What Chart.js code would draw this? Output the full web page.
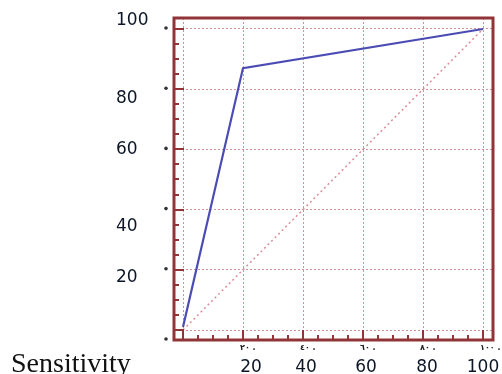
<!DOCTYPE html>
<html>
<head>
<meta charset="utf-8">
<script src="https://cdn.jsdelivr.net/npm/chart.js@4"></script>
<style>
  html, body { margin: 0; padding: 0; background: #fff; }
  canvas { display: block; }
</style>
</head>
<body>
<canvas id="roc" width="502" height="374"></canvas>
<script>
// values
const rocX = [0, 20, 100];
const rocY = [1, 87, 100];
const diagX = [0, 100];
const diagY = [0, 100];
const gridTicks = [0, 20, 40, 60, 80, 100];
const yLabels = ['100', '80', '60', '40', '20'];
const xLabels = ['20', '40', '60', '80', '100'];
const xLabelsAr = ['٢٠', '٤٠', '٦٠', '٨٠', '١٠٠'];
const axisTitle = 'Sensitivity';

const frameColor = '#923437';
const gridColor = '#d98e99';

function toPoints(xs, ys) {
    return xs.map((x, i) => ({ x: x, y: ys[i] }));
}

// frame, tick marks and all the odd text placement
const framePlugin = {
    id: 'frame',
    afterDraw(chart) {
        const ctx = chart.ctx;
        const area = chart.chartArea;
        const xs = chart.scales.x;
        const ys = chart.scales.y;
        ctx.save();

        // minor + major ticks, inside
        ctx.strokeStyle = frameColor;
        ctx.lineWidth = 2;
        for (let v = 0; v <= 100; v += 5) {
            const major = v % 20 === 0;
            const len = major ? 10 : 5;
            const py = Math.round(ys.getPixelForValue(v));
            ctx.beginPath();
            ctx.moveTo(area.left, py);
            ctx.lineTo(area.left + len, py);
            ctx.stroke();
            const px = Math.round(xs.getPixelForValue(v));
            ctx.beginPath();
            ctx.moveTo(px, area.bottom);
            ctx.lineTo(px, area.bottom - len);
            ctx.stroke();
        }

        ctx.lineWidth = 3;
        ctx.strokeRect(area.left, area.top, area.right - area.left, area.bottom - area.top);

        // small dots left of the y axis
        ctx.fillStyle = '#333';
        [100, 80, 60, 40, 20].forEach(v => {
            ctx.beginPath();
            ctx.arc(area.left - 8, ys.getPixelForValue(v) - 1, 1.8, 0, Math.PI * 2);
            ctx.fill();
        });
        ctx.beginPath();
        ctx.arc(area.left - 8, area.bottom - 1, 1.8, 0, Math.PI * 2);
        ctx.fill();

        // y labels (left aligned, nudged like the original)
        const yNudge = [-8, 9, 0, 17, 8];
        ctx.fillStyle = '#0c1626';
        ctx.font = '17px "DejaVu Sans"';
        ctx.textAlign = 'left';
        ctx.textBaseline = 'middle';
        yLabels.forEach((t, i) => {
            const v = 100 - i * 20;
            ctx.fillText(t, 116, ys.getPixelForValue(v) + yNudge[i]);
        });

        // tiny arabic digits under the axis
        ctx.fillStyle = '#222';
        ctx.font = 'bold 8px "DejaVu Sans"';
        ctx.textBaseline = 'middle';
        xLabelsAr.forEach((t, i) => {
            const px = xs.getPixelForValue((i + 1) * 20);
            ctx.fillText(t + ' .', px - 3, 348);
        });

        // x labels
        const xNudge = [8, 3, 3, 4, 0];
        ctx.fillStyle = '#0c1626';
        ctx.font = '17px "DejaVu Sans"';
        ctx.textAlign = 'center';
        ctx.textBaseline = 'alphabetic';
        xLabels.forEach((t, i) => {
            const px = xs.getPixelForValue((i + 1) * 20) + xNudge[i];
            ctx.fillText(t, px, 372);
        });

        ctx.font = '28px "Liberation Serif"';
        ctx.textAlign = 'left';
        ctx.fillStyle = '#111';
        ctx.fillText(axisTitle, 11, 372);

        ctx.restore();
    }
};

new Chart(document.getElementById('roc'), {
    type: 'line',
    data: {
        datasets: [
            {
                data: toPoints(diagX, diagY),
                borderColor: gridColor,
                borderWidth: 1.5,
                borderDash: [2, 3],
                pointRadius: 0
            },
            {
                data: toPoints(rocX, rocY),
                borderColor: '#4a4cb4',
                borderWidth: 2.2,
                pointRadius: 0
            }
        ]
    },
    options: {
        responsive: false,
        animation: false,
        layout: { padding: { left: 174, right: 9, top: 18, bottom: 34 } },
        plugins: {
            legend: { display: false },
            tooltip: { enabled: false }
        },
        scales: {
            x: {
                type: 'linear',
                min: -3,
                max: 103.33,
                afterBuildTicks: axis => { axis.ticks = gridTicks.map(v => ({ value: v })); },
                ticks: { display: false },
                grid: { color: gridColor, lineWidth: 1, drawTicks: false },
                border: { display: false, dash: [2, 2] }
            },
            y: {
                type: 'linear',
                min: -3.32,
                max: 103.65,
                afterBuildTicks: axis => { axis.ticks = gridTicks.map(v => ({ value: v })); },
                ticks: { display: false },
                grid: { color: gridColor, lineWidth: 1, drawTicks: false },
                border: { display: false, dash: [2, 2] }
            }
        }
    },
    plugins: [framePlugin]
});
</script>
</body>
</html>
